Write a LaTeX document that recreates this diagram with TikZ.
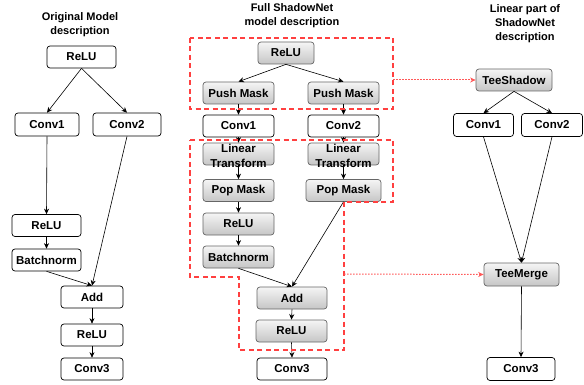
\documentclass[tikz,border=0pt]{standalone}
\usepackage{fontspec}
\setmainfont{Liberation Sans}
\usetikzlibrary{arrows.meta}
\begin{document}
\begin{tikzpicture}[x=1pt,y=-1pt,
  box/.style={draw=black, line width=0.7pt, rounded corners=3pt, fill=white,
    minimum height=22pt, inner sep=0pt, font=\fontsize{11.5}{13}\selectfont\bfseries},
  gbox/.style={box, draw=gray!80!black, top color=gray!8, bottom color=gray!45},
  title/.style={align=center, font=\fontsize{11}{14}\selectfont\bfseries},
  arr/.style={-{Stealth[length=5.5pt,width=5pt]}, line width=0.6pt},
  redbox/.style={draw=red!75, line width=1.2pt, dash pattern=on 5pt off 3.5pt},
  redarr/.style={draw=red!60, line width=1pt, dash pattern=on 1.6pt off 1.4pt, -{Stealth[length=5.5pt,width=5pt]}, color=red!65}
]
\useasboundingbox (0,0) rectangle (584,385);

% titles
\node[title] (t1) at (80,24.5) {Original Model\\description};
\node[title] (t2) at (292,15.5) {Full ShadowNet\\model description};
\node[title] (t3) at (525,24) {Linear part of\\ShadowNet\\description};

% left column
\node[box, minimum width=69pt] (lRelu) at (81.5,57) {ReLU};
\node[box, minimum width=64pt, minimum height=23pt] (lC1) at (47,124.5) {Conv1};
\node[box, minimum width=68pt, minimum height=23pt] (lC2) at (127,124.5) {Conv2};
\node[box, minimum width=69pt] (lR2) at (46.5,225.5) {ReLU};
\node[box, minimum width=69pt] (lBN) at (46.5,260) {Batchnorm};
\node[box, minimum width=62pt] (lAdd) at (92,297) {Add};
\node[box, minimum width=62pt] (lR3) at (92,335) {ReLU};
\node[box, minimum width=62pt] (lC3) at (92,369) {Conv3};

\draw[arr] (lRelu.south) -- (lC1.north);
\draw[arr] (lRelu.south) -- (lC2.north);
\draw[arr] (lC1.south) -- (lR2.north);
\draw[arr] (lR2.south) -- (lBN.north);
\draw[arr] (lBN.south) -- (lAdd.north);
\draw[arr] (lC2.south) -- (lAdd.north);
\draw[arr] (lAdd.south) -- (lR3.north);
\draw[arr] (lR3.south) -- (lC3.north);

% middle column
\node[gbox, minimum width=56pt] (mRelu) at (286,53) {ReLU};
\node[gbox, minimum width=71pt] (mPL) at (238.5,93) {Push Mask};
\node[gbox, minimum width=71pt] (mPR) at (343.5,93) {Push Mask};
\node[box, minimum width=71pt] (mC1) at (238.5,126) {Conv1};
\node[box, minimum width=71pt] (mC2) at (343.5,126) {Conv2};
\node[gbox, minimum width=71pt] (mLL) at (238.5,154) {};
\node[gbox, minimum width=71pt] (mLR) at (343.5,154) {};
\node[align=center, inner sep=0pt, font=\fontsize{11.5}{14.5}\selectfont\bfseries] (mLLt) at (238.5,156) {Linear\\Transform};
\node[align=center, inner sep=0pt, font=\fontsize{11.5}{14.5}\selectfont\bfseries] (mLRt) at (343.5,156) {Linear\\Transform};
\node[gbox, minimum width=71pt] (mPopL) at (238.5,190.5) {Pop Mask};
\node[gbox, minimum width=75pt] (mPopR) at (343.5,190.5) {Pop Mask};
\node[gbox, minimum width=71pt] (mR2) at (238.5,224) {ReLU};
\node[gbox, minimum width=71pt] (mBN) at (238.5,257) {Batchnorm};
\node[gbox, minimum width=70pt] (mAdd) at (292,298) {Add};
\node[gbox, minimum width=71pt] (mR3) at (291.5,331) {ReLU};
\node[box, minimum width=70pt] (mC3) at (292,369) {Conv3};

\draw[arr] (mRelu.south) -- (mPL.north);
\draw[arr] (mRelu.south) -- (mPR.north);
\draw[arr] (mPL.south) -- (mC1.north);
\draw[arr] (mPR.south) -- (mC2.north);
\draw[arr] (mC1.south) -- (mLL.north);
\draw[arr] (mC2.south) -- (mLR.north);
\draw[arr] (mLL.south) -- (mPopL.north);
\draw[arr] (mLR.south) -- (mPopR.north);
\draw[arr] (mPopL.south) -- (mR2.north);
\draw[arr] (mR2.south) -- (mBN.north);
\draw[arr] (mBN.south) -- (mAdd.north);
\draw[arr] (mPopR.south) -- (mAdd.north);
\draw[arr] (mAdd.south) -- (mR3.north);
\draw[arr] (mR3.south) -- (mC3.north);

% right column
\node[gbox, minimum width=76pt] (rTS) at (514,80) {TeeShadow};
\node[box, minimum width=60pt, minimum height=23pt] (rC1) at (483.5,125) {Conv1};
\node[box, minimum width=61pt, minimum height=23pt] (rC2) at (552,125) {Conv2};
\node[gbox, minimum width=75pt, minimum height=23pt] (rTM) at (521.5,274.5) {TeeMerge};
\node[box, minimum width=68pt, minimum height=23pt] (rC3) at (521,369) {Conv3};

\draw[arr] (rTS.south) -- (rC1.north);
\draw[arr] (rTS.south) -- (rC2.north);
\draw[arr] (rC1.south) -- (rTM.north);
\draw[arr] (rC2.south) -- (rTM.north);
\draw[arr] (rTM.south) -- (rC3.north);

% red dashed groups
\draw[redbox] (190,38) rectangle (393,109);
\draw[redbox] (190,140) -- (393,140) -- (393,202) -- (344,202) -- (344,350)
  -- (239,350) -- (239,277) -- (190,277) -- cycle;

\coordinate (g1) at (393,80);
\coordinate (g2) at (344,274);
\draw[redarr] (g1) -- (rTS.west);
\draw[redarr] (g2) -- (rTM.west);
\end{tikzpicture}
\end{document}
